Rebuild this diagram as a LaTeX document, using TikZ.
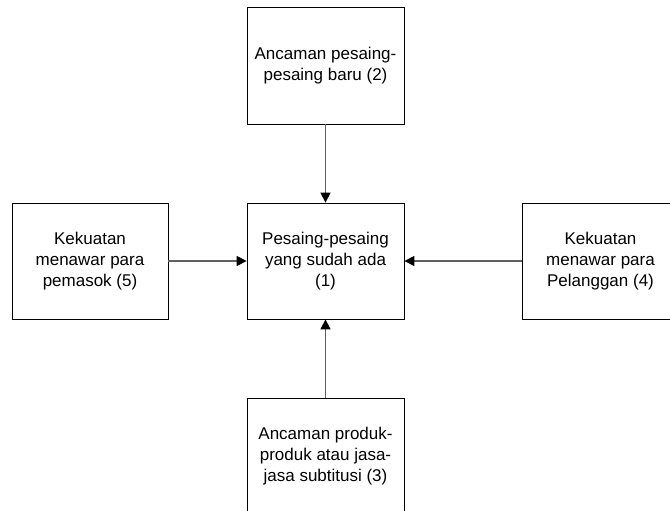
\documentclass[tikz,border=0pt]{standalone}
\usepackage{fontspec}
\setmainfont{Liberation Sans}
\usetikzlibrary{arrows.meta}

\begin{document}
\begin{tikzpicture}[x=1pt,y=-1pt,
		box/.style={draw,line width=0.8pt,rectangle,minimum width=157pt,minimum height=116pt,
			align=center,inner sep=2pt,font=\fontsize{17}{21}\selectfont},
		arr/.style={draw=gray!75!black,line width=1.3pt,
			-{Triangle[length=10pt,width=10pt,color=black]}}]
		\useasboundingbox (0,0) rectangle (670,511);

		% Forces around the rivalry
		\node[box] (rival)    at (325.5,261) {Pesaing-pesaing\\yang sudah ada\\(1)};
		\node[box,minimum height=117pt] (entrant) at (325.5,65.5) {Ancaman pesaing-\\pesaing baru (2)};
		\node[box,minimum width=156pt] (supplier) at (90,261) {Kekuatan\\menawar para\\pemasok (5)};
		\node[box] (buyer)    at (600.5,261) {Kekuatan\\menawar para\\Pelanggan (4)};
		\node[box] (subst)    at (325.5,456) {Ancaman produk-\\produk atau jasa-\\jasa subtitusi (3)};

		% Arrows into the centre
		\draw[arr] (entrant) -- (rival);
		\draw[arr] (supplier) -- (rival);
		\draw[arr] (buyer) -- (rival);
		\draw[arr] (subst) -- (rival);
	\end{tikzpicture}
\end{document}
